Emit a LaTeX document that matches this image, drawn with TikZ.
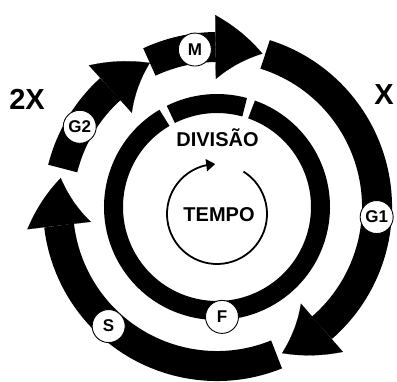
\documentclass[tikz,border=0pt]{standalone}
\usepackage{fontspec}
\setmainfont{Liberation Sans}
\usepackage{tikz}
\usetikzlibrary{arrows.meta,bending,calc}

\begin{document}
\begin{tikzpicture}[
  x=1pt, y=1pt,
  phase/.style={draw, circle, line width=0.9pt, fill=white, inner sep=0pt, minimum size=33pt, font=\bfseries\fontsize{17}{19}\selectfont},
  band/.style={line width=30pt, -{Triangle[width=64pt, length=48pt, line width=0.1pt, bend]}},
  ring/.style={line width=19pt},
  factor/.style={font=\bfseries\fontsize{29}{31}\selectfont},
  title/.style={font=\bfseries\fontsize{20}{22}\selectfont}
]
\useasboundingbox (0,0) rectangle (397,381);
\coordinate (C) at (217,174);

% outer cycle
\draw[band] ($(C)+(-68:159pt)$) arc[start angle=-68, end angle=-190.5, radius=159pt];
\draw[band] ($(C)+(166:159pt)$) arc[start angle=166, end angle=115, radius=159pt];
\draw[band] ($(C)+(115:160pt)$) arc[start angle=115, end angle=73.5, radius=160pt];
\draw[band] ($(C)+(72.5:160pt)$) arc[start angle=72.5, end angle=-66, radius=160pt];

% inner ring
\draw[ring] ($(C)+(74.5:103.5pt)$) arc[start angle=74.5, end angle=116.5, radius=103.5pt];
\draw[ring] ($(C)+(120.5:103.5pt)$) arc[start angle=120.5, end angle=430.5, radius=103.5pt];

% phases
\node[phase] (m) at ($(C)+(98:159pt)$) {M};
\node[phase] (g2) at ($(C)+(149.7:159pt)$) {G2};
\node[phase] (g1) at ($(C)+(-3.6:160pt)$) {G1};
\node[phase] (s) at ($(C)+(-132.3:161pt)$) {S};
\node[phase] (f) at ($(C)+(-87.4:110pt)$) {F};

\node[factor] (twice) at (27,282) {2X};
\node[factor] (once) at (384,286) {X};
\node[title] (div) at (217.5,243) {DIVISÃO};
\node[title] (tempo) at (219,166.5) {TEMPO};

% time arrow
\draw[line width=1.8pt, -{Triangle[width=12pt, length=9pt]}] ($(217,167)+(58:50pt)$) arc[start angle=58, end angle=-268, radius=50pt];
\end{tikzpicture}
\end{document}
